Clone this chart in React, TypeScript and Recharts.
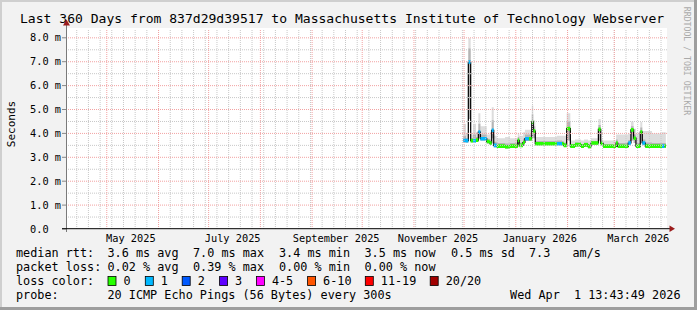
import React from 'react';
import { ComposedChart, Area, XAxis, YAxis, ReferenceLine } from 'recharts';

const W = 697;
const H = 310;
const FONT = '"DejaVu Sans Mono", monospace';

// graph window: 360 days ending Wed Apr 1 2026 13:43:49
const START = Date.UTC(2025, 3, 6, 13, 43, 49);
const DAY = 86400000;
const dayOf = (y: number, m: number, d: number) => (Date.UTC(y, m, d) - START) / DAY;

// step points, days since window start
const days = [238.0, 239.6, 241.0, 242.4, 243.8, 245.6, 247.0, 248.2, 252.0, 253.8, 255.0, 256.2, 258.0, 263.0, 266.0, 270.6, 271.5, 273.7, 274.9, 277.3, 279.0, 279.9, 281.1, 294.1, 297.1, 298.1, 299.9, 302.1, 304.9, 308.5, 310.3, 312.7, 314.5, 318.9, 320.3, 321.7, 329.5, 330.5, 336.8, 338.4, 340.0, 341.4, 344.0, 345.2, 347.0, 351.0, 357.0, 358.4, 359.3];
// median rtt in ms
const median = [3.71, 3.70, 6.99, 3.70, 3.69, 3.72, 4.06, 3.78, 3.66, 3.60, 4.13, 3.50, 3.47, 3.44, 3.47, 3.71, 3.50, 3.62, 3.78, 3.78, 4.48, 4.10, 3.57, 3.57, 3.57, 3.50, 4.20, 3.47, 3.53, 3.46, 3.52, 3.45, 3.60, 4.17, 3.58, 3.46, 3.60, 3.46, 3.60, 4.15, 3.80, 3.47, 4.06, 3.60, 3.47, 3.47, 3.47, 3.47, 3.47];
// lost pings out of 20
const loss = [1, 1, 1, 0, 1, 0, 1, 1, 0, 0, 1, 1, 0, 0, 0, 0, 0, 0, 1, 0, 0, 0, 0, 1, 0, 0, 0, 0, 0, 0, 0, 0, 0, 0, 0, 0, 0, 0, 1, 0, 0, 0, 0, 1, 0, 0, 1, 0, 0];
// smoke envelope (ms)
const smokeLow = [3.62, 3.62, 4.60, 3.63, 3.62, 3.64, 3.80, 3.70, 3.58, 3.52, 3.80, 3.42, 3.40, 3.37, 3.40, 3.55, 3.43, 3.54, 3.68, 3.68, 3.90, 3.80, 3.50, 3.50, 3.50, 3.43, 3.70, 3.40, 3.45, 3.39, 3.45, 3.38, 3.52, 3.70, 3.50, 3.39, 3.45, 3.39, 3.50, 3.70, 3.60, 3.40, 3.60, 3.50, 3.40, 3.40, 3.40, 3.40, 3.40];
const smokeMid = [3.90, 3.80, 7.55, 3.80, 3.95, 3.85, 4.40, 3.95, 3.78, 3.75, 4.55, 3.65, 3.60, 3.58, 3.60, 3.85, 3.62, 3.78, 3.95, 3.95, 4.80, 4.30, 3.68, 3.70, 3.68, 3.62, 4.50, 3.55, 3.62, 3.55, 3.62, 3.55, 3.68, 4.35, 3.65, 3.55, 3.75, 3.60, 3.72, 4.30, 3.95, 3.60, 4.25, 3.75, 3.62, 3.60, 3.60, 3.60, 3.60];
const smokeHigh = [4.40, 4.00, 7.98, 3.95, 4.40, 4.05, 4.84, 4.30, 3.95, 4.05, 5.10, 3.90, 3.80, 3.85, 3.80, 4.00, 3.90, 4.05, 4.15, 4.15, 5.17, 4.55, 3.85, 3.90, 3.90, 3.90, 4.84, 3.70, 3.75, 3.70, 3.75, 3.70, 3.80, 4.60, 3.75, 3.70, 3.95, 3.95, 4.00, 4.50, 4.20, 4.00, 4.48, 4.10, 4.10, 4.00, 4.05, 4.05, 4.05];

const yTicks = [0, 1, 2, 3, 4, 5, 6, 7, 8];
const yLabels = ['0.0', '1.0 m', '2.0 m', '3.0 m', '4.0 m', '5.0 m', '6.0 m', '7.0 m', '8.0 m'];
const monthLabels = ['May 2025', 'July 2025', 'September 2025', 'November 2025', 'January 2026', 'March 2026'];
const monthLabelDates: [number, number][] = [[2025, 4], [2025, 6], [2025, 8], [2025, 10], [2026, 0], [2026, 2]];

const lossLabels = ['0', '1', '2', '3', '4-5', '6-10', '11-19', '20/20'];
const lossColors = ['#26ff00', '#00b8ff', '#0059ff', '#5e00ff', '#ff00ff', '#ff5500', '#ff0000', '#a10000'];

const statsRtt = ['3.6 ms avg', '7.0 ms max', '3.4 ms min', '3.5 ms now', '0.5 ms sd', '7.3', 'am/s'];
const statsLoss = ['0.02 % avg', '0.39 % max', '0.00 % min', '0.00 % now'];

const BAND = 0.075;

const labelTicks = monthLabelDates.map(([y, m]) => dayOf(y, m, 15) + 0.4);

const monthDays: number[] = [];
for (let m = 4; m < 15; m++) monthDays.push(dayOf(2025, m, 1));
const weekDays: number[] = [];
for (let d = dayOf(2025, 3, 13); d < 360; d += 7) weekDays.push(d);
const halfSteps = [0.5, 1.5, 2.5, 3.5, 4.5, 5.5, 6.5, 7.5];
const majorSteps = [1, 2, 3, 4, 5, 6, 7, 8];

const bandOf = (j: number, lvl: number) =>
  loss[j] === lvl ? [median[j] - BAND, median[j] + BAND] : null;

const rowFor = (d: number, j: number) => ({
  day: d,
  med: median[j],
  smoke: [smokeLow[j], smokeHigh[j]],
  core: [smokeLow[j], smokeMid[j]],
  band0: bandOf(j, 0),
  band1: bandOf(j, 1),
});

// each step point gets an extra row carrying the previous values, so colour runs end cleanly
const rows: any[] = [];
days.forEach((d, i) => {
  if (i > 0) rows.push(rowFor(d, i - 1));
  rows.push(rowFor(d, i));
});

const legendX = [107.5, 193, 279, 364.5, 451, 529, 572.5];
const boxX = [108, 145.3, 182.2, 219.6, 256.4, 307.6, 365.3, 430.2];

const txt = { fontFamily: FONT, fontSize: 11.8, fill: '#000' } as const;

const App: React.FC = () => {
  return (
    <div style={{ position: 'absolute', left: 0, top: 0, width: W, height: H }}>
      <svg width={W} height={H} style={{ position: 'absolute', left: 0, top: 0 }}>
        <rect x={0} y={0} width={W} height={H} fill="#f2f2f2" />
        <rect x={0} y={0} width={W} height={2} fill="#cfcfcf" />
        <rect x={0} y={0} width={2} height={H} fill="#cfcfcf" />
        <rect x={W - 3} y={0} width={3} height={H} fill="#9e9e9e" />
        <rect x={0} y={H - 3} width={W} height={3} fill="#9e9e9e" />
        <rect x={66} y={28} width={601} height={201} fill="#ffffff" />
      </svg>

      <div style={{ position: 'absolute', left: 0, top: 0 }}>
        <ComposedChart width={W} height={H} data={rows} margin={{ top: 29, right: 30, bottom: 61, left: 6 }}>
          <XAxis
            dataKey="day"
            type="number"
            domain={[0, 360]}
            allowDataOverflow
            ticks={labelTicks}
            interval={0}
            axisLine={false}
            tickLine={false}
            height={20}
            tick={(p: any) => (
              <text x={p.x} y={241.5} textAnchor="middle" fontFamily={FONT} fontSize={10.3} fill="#000">
                {monthLabels[labelTicks.indexOf(p.payload.value)]}
              </text>
            )}
          />
          <YAxis
            type="number"
            domain={[0, 8.37]}
            allowDataOverflow
            ticks={yTicks}
            interval={0}
            axisLine={false}
            tickLine={false}
            width={60}
            tick={(p: any) => (
              <text x={30} y={p.y + 3.6} textAnchor="start" fontFamily={FONT} fontSize={10.3} fill="#000">
                {yLabels[yTicks.indexOf(p.payload.value)]}
              </text>
            )}
          />

          {weekDays.map((d) => (
            <ReferenceLine key={'w' + d} x={d} stroke="#c8c8c8" strokeDasharray="1 1" />
          ))}
          {halfSteps.map((v) => (
            <ReferenceLine key={'h' + v} y={v} stroke="#c8c8c8" strokeDasharray="1 1" />
          ))}
          {monthDays.map((d) => (
            <ReferenceLine key={'m' + d} x={d} stroke="#f2a2a2" strokeDasharray="1 1" />
          ))}
          {majorSteps.map((v) => (
            <ReferenceLine key={'g' + v} y={v} stroke="#f2a2a2" strokeDasharray="1 1" />
          ))}

          <Area dataKey="smoke" type="stepAfter" stroke="none" fill="#dddddd" fillOpacity={1} activeDot={false} isAnimationActive={false} />
          <Area dataKey="core" type="stepAfter" stroke="none" fill="#b5b5b5" fillOpacity={1} activeDot={false} isAnimationActive={false} />
          {/* median drawn as a stroke-only area so it stays beneath the loss colour bands */}
          <Area dataKey="med" type="stepAfter" stroke="#000000" strokeWidth={1.2} fill="none" fillOpacity={0} activeDot={false} isAnimationActive={false} />
          <Area dataKey="band0" type="stepAfter" stroke="none" fill={lossColors[0]} fillOpacity={1} activeDot={false} isAnimationActive={false} />
          <Area dataKey="band1" type="stepAfter" stroke="none" fill={lossColors[1]} fillOpacity={1} activeDot={false} isAnimationActive={false} />
        </ComposedChart>
      </div>

      <svg width={W} height={H} style={{ position: 'absolute', left: 0, top: 0, pointerEvents: 'none' }}>
        <text x={20} y={23} fontFamily={FONT} fontSize={13.05} fill="#000">
          Last 360 Days from 837d29d39517 to Massachusetts Institute of Technology Webserver
        </text>
        <text
          transform="translate(684,61) rotate(90)"
          textAnchor="middle"
          fontFamily={FONT}
          fontSize={8.2}
          fill="#aaaaaa"
        >
          RRDTOOL / TOBI OETIKER
        </text>
        <text transform="translate(14.5,124) rotate(-90)" textAnchor="middle" fontFamily={FONT} fontSize={11} fill="#000">
          Seconds
        </text>

        {yTicks.map((v) => (
          <line key={'yt' + v} x1={62} x2={66} y1={229 - v * 23.9} y2={229 - v * 23.9} stroke="#888" />
        ))}
        <line x1={66.5} y1={232} x2={66.5} y2={24} stroke="#7a7a7a" strokeWidth={1} />
        <polygon points="63,25.5 70,25.5 66.5,19.5" fill="#9b1c1c" />
        <line x1={62} y1={228.7} x2={670} y2={228.7} stroke="#000" strokeWidth={1} />
        <polygon points="669.5,225.5 669.5,232 675,228.7" fill="#9b1c1c" />

        <text x={16} y={257} {...txt}>median rtt:</text>
        {statsRtt.map((s, i) => (
          <text key={'r' + i} x={legendX[i]} y={257} {...txt}>{s}</text>
        ))}
        <text x={16} y={271} {...txt}>packet loss:</text>
        {statsLoss.map((s, i) => (
          <text key={'l' + i} x={legendX[i]} y={271} {...txt}>{s}</text>
        ))}
        <text x={16} y={285} {...txt}>loss color:</text>
        {lossLabels.map((s, i) => (
          <g key={'c' + i}>
            <rect x={boxX[i]} y={276.5} width={8} height={9} fill={lossColors[i]} stroke="#000" strokeWidth={0.8} />
            <text x={boxX[i] + 15.5} y={285} {...txt}>{s}</text>
          </g>
        ))}
        <text x={16} y={299} {...txt}>probe:</text>
        <text x={107.5} y={299} {...txt}>20 ICMP Echo Pings (56 Bytes) every 300s</text>
        <text x={680.5} y={299} textAnchor="end" {...txt} style={{ whiteSpace: 'pre' }}>
          {'Wed Apr  1 13:43:49 2026'}
        </text>
      </svg>
    </div>
  );
};

export default App;
